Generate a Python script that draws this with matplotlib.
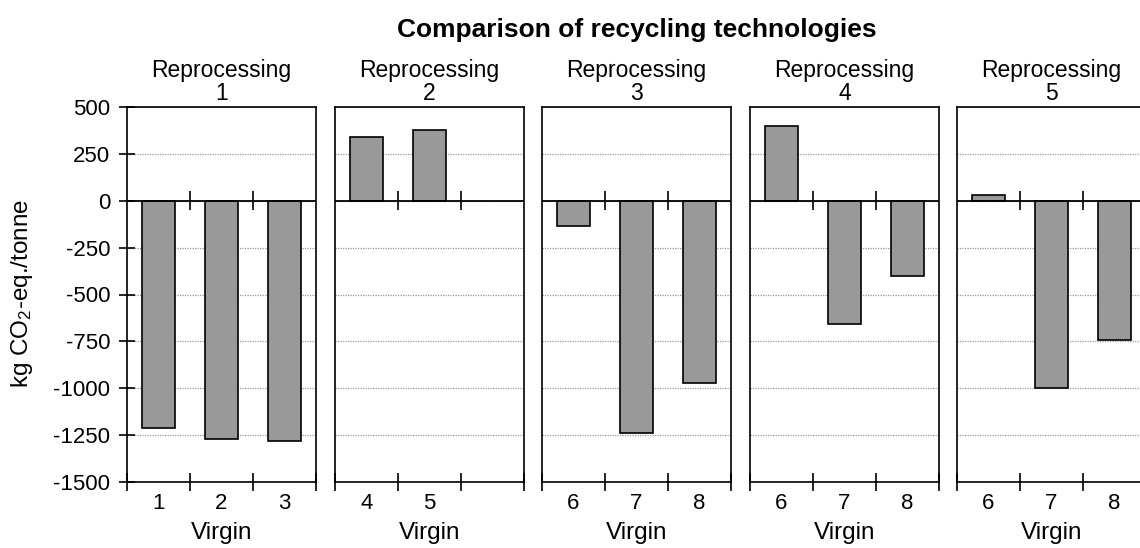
import matplotlib
matplotlib.use("Agg")
import matplotlib.pyplot as plt

plt.rcParams["font.family"] = ["Liberation Sans", "DejaVu Sans"]
plt.rcParams["mathtext.fontset"] = "custom"
plt.rcParams["mathtext.rm"] = "Liberation Sans"
plt.rcParams["mathtext.default"] = "rm"

# ── Data ──────────────────────────────────────────────────────────────────────
panel_titles = ["Reprocessing\n1", "Reprocessing\n2", "Reprocessing\n3",
                "Reprocessing\n4", "Reprocessing\n5"]
virgin_1 = ["1", "2", "3"]
virgin_2 = ["4", "5"]
virgin_3 = ["6", "7", "8"]
virgin_4 = ["6", "7", "8"]
virgin_5 = ["6", "7", "8"]
values_1 = [-1210, -1270, -1280]
values_2 = [340, 380]
values_3 = [-135, -1240, -970]
values_4 = [400, -655, -400]
values_5 = [30, -1000, -745]
y_ticks = [500, 250, 0, -250, -500, -750, -1000, -1250, -1500]

labels = [virgin_1, virgin_2, virgin_3, virgin_4, virgin_5]
values = [values_1, values_2, values_3, values_4, values_5]

# ── Layout ────────────────────────────────────────────────────────────────────
W, H = 1140, 548
fig = plt.figure(figsize=(W / 100, H / 100), dpi=100)
fig.patch.set_facecolor("white")

lefts_px = [127, 335, 542, 750, 957]
ax_w = 189 / W
ax_b = (H - 482) / H
ax_h = (482 - 107) / H

BAR = "#999999"
FS_TICK = 16
FS_LAB = 17.5

for i, (lx, cats, vals, ttl) in enumerate(zip(lefts_px, labels, values, panel_titles)):
    ax = fig.add_axes([lx / W, ax_b, ax_w, ax_h])
    pos = list(range(len(cats)))
    ax.bar(pos, vals, width=0.53, color=BAR, edgecolor="black", linewidth=1.2, zorder=3)
    ax.set_xlim(-0.5, 2.5)
    ax.set_ylim(-1500, 500)
    ax.set_yticks(y_ticks)
    ax.yaxis.grid(True, color="#9a9a9a", linestyle=(0, (1, 1)), linewidth=0.9, zorder=1)
    ax.axhline(0, color="black", linewidth=1.3, zorder=4)

    # category labels + boundary ticks
    ax.set_xticks(pos)
    ax.set_xticklabels(cats, fontsize=FS_TICK)
    ax.tick_params(axis="x", which="major", length=0, pad=8)
    ax.set_xticks([-0.5, 0.5, 1.5, 2.5], minor=True)
    ax.tick_params(axis="x", which="minor", direction="inout", length=13, width=1.2)
    ax.vlines([0.5, 1.5], -50, 50, color="black", linewidth=1.2, zorder=5)

    if i == 0:
        ax.set_yticklabels([str(t) for t in y_ticks], fontsize=FS_TICK)
        ax.tick_params(axis="y", direction="inout", length=12, width=1.2, pad=6)
    else:
        ax.tick_params(axis="y", length=0, labelleft=False)

    for s in ax.spines.values():
        s.set_linewidth(1.2)
    ax.set_xlabel("Virgin", fontsize=FS_LAB, labelpad=6)
    ax.set_title(ttl, fontsize=16.5, linespacing=1.02, pad=5)

fig.text(637 / W, 1 - 30 / H, "Comparison of recycling technologies",
         ha="center", va="center", fontsize=19, fontweight="bold")
fig.text(22 / W, 1 - 293 / H, "kg CO$_2$-eq./tonne", ha="center", va="center",
         rotation=90, fontsize=FS_LAB)

fig.savefig("out.png", dpi=100, facecolor="white")
